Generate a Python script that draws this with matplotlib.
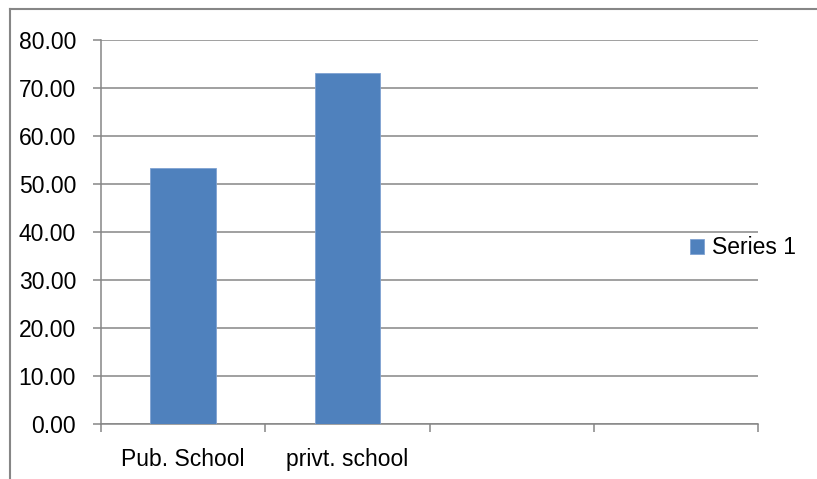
import matplotlib
matplotlib.use("Agg")
import matplotlib.pyplot as plt
from matplotlib.lines import Line2D
import numpy as np

categories = ["Pub. School", "privt. school", "", ""]
series_values = [53.3, 73.1]
series_name = "Series 1"
y_ticks = [0, 10, 20, 30, 40, 50, 60, 70, 80]

plt.rcParams['font.family'] = ['Liberation Sans', 'DejaVu Sans']
grey = "#868686"
blue = "#4F81BD"

fig = plt.figure(figsize=(8.17, 4.79), dpi=100)
ax = fig.add_axes([101 / 817, 55 / 479, 657 / 817, 384 / 479])

x = np.arange(len(categories))
ax.bar(x[:len(series_values)], series_values, width=0.4, color=blue,
       edgecolor="#7FA2D2", linewidth=0.6, label=series_name, zorder=3)

ax.set_xlim(-0.5, len(categories) - 0.5)
ax.set_ylim(0, 80)
ax.set_yticks(y_ticks)
ax.set_yticklabels([f"{v:.2f}" for v in y_ticks])
ax.set_xticks(x)
ax.set_xticklabels(categories)
ax.set_xticks(np.arange(len(categories) + 1) - 0.5, minor=True)

ax.tick_params(axis='y', which='major', length=6, width=1.1, color=grey,
               pad=12, labelsize=16.5)
ax.tick_params(axis='x', which='major', length=0, pad=17, labelsize=16.5)
ax.tick_params(axis='x', which='minor', length=6, width=1.1, color=grey)

ax.grid(axis='y', color=grey, linewidth=1.1, zorder=0)
ax.set_axisbelow(True)
for side in ['top', 'right']:
    ax.spines[side].set_visible(False)
for side in ['left', 'bottom']:
    ax.spines[side].set_color(grey)
    ax.spines[side].set_linewidth(1.1)

handles, labels = ax.get_legend_handles_labels()
fig.legend(handles, labels, loc='center left',
           bbox_to_anchor=(690 / 817, 1 - 248 / 479), frameon=False,
           fontsize=16.5, handlelength=0.6, handleheight=0.6,
           handletextpad=0.35, borderpad=0, borderaxespad=0)

# outer chart border (only left and top visible in the crop)
fig.add_artist(Line2D([10 / 817, 10 / 817], [0, 1 - 9 / 479],
                      transform=fig.transFigure, color=grey, linewidth=1.5))
fig.add_artist(Line2D([10 / 817, 1], [1 - 9 / 479, 1 - 9 / 479],
                      transform=fig.transFigure, color=grey, linewidth=1.5))

fig.savefig("out.png", dpi=100)
